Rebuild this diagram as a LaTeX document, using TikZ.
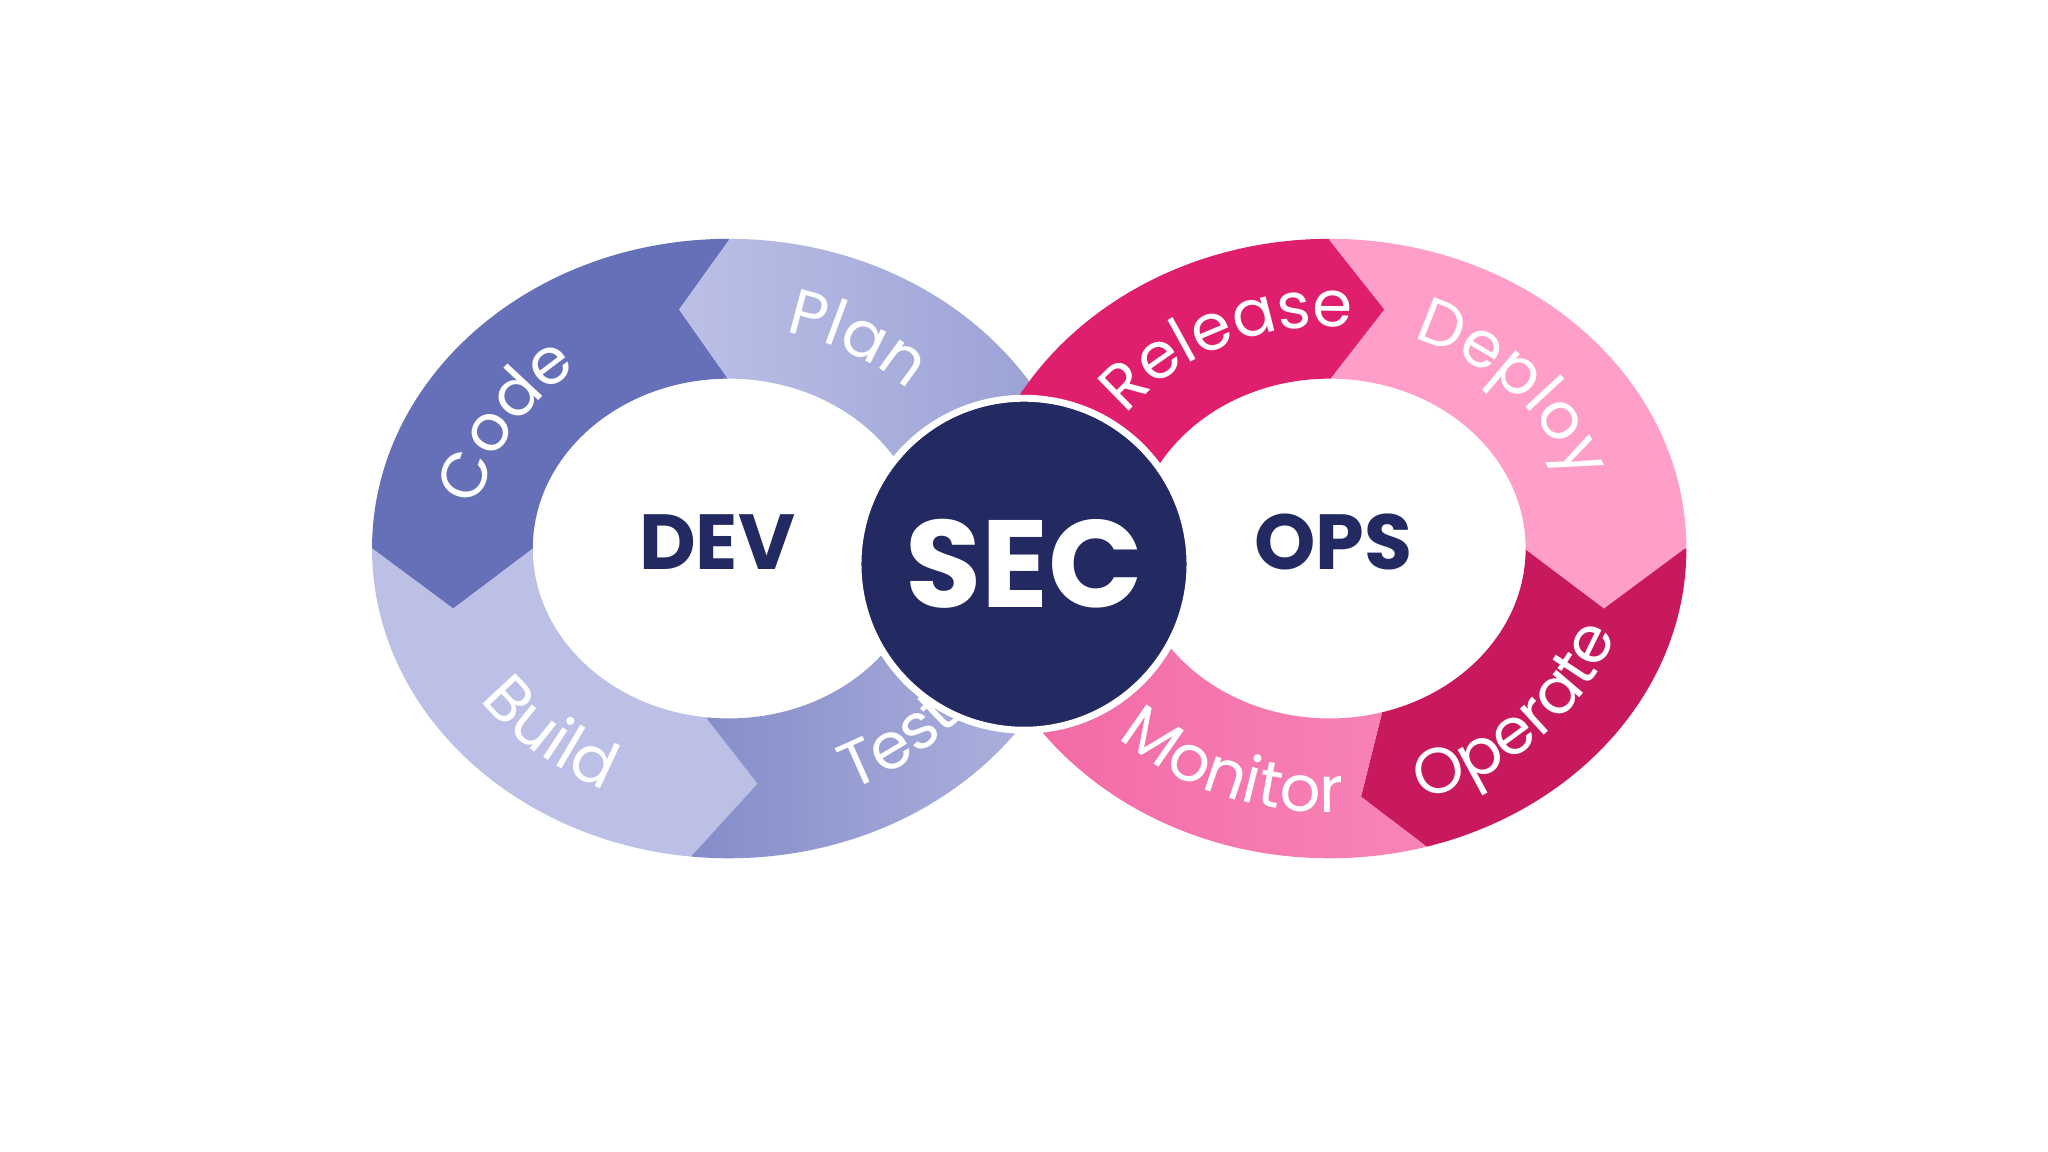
\documentclass[tikz,border=0pt]{standalone}
\usepackage{fontspec}
\setmainfont{Poppins}
\usetikzlibrary{decorations.text}
\definecolor{codeB}{HTML}{6670B8}
\definecolor{lightB}{HTML}{BCC0E6}
\definecolor{midB}{HTML}{8E97CF}
\definecolor{navy}{HTML}{232A62}
\definecolor{relM}{HTML}{E01E6E}
\definecolor{depP}{HTML}{FF9EC8}
\definecolor{opM}{HTML}{C8185E}
\definecolor{monP}{HTML}{EE5A9C}
\tikzset{
  lab/.style={decorate, decoration={text along path, text align=center, text color=white}}
}
\newcommand{\lfont}{\fontsize{14}{14}\selectfont}
\begin{document}
\begin{tikzpicture}[x=0.01cm,y=0.01cm]
\fill[white] (0,0) rectangle (1568,882);
\useasboundingbox (0,0) rectangle (1568,882);
\coordinate (C) at (558,462);
\coordinate (D) at (1018,462);
% left ring
\begin{scope}[even odd rule]
\clip (C) ellipse (2.73cm and 2.37cm) (C) ellipse (1.50cm and 1.30cm);
\fill[codeB] (558,462)--(558,591)--(520,645)--(558,698)--(558,882)--(0,882)--(0,462)--(285,462)--(347,416)--(408,462)--cycle;
\shade[left color=lightB,right color=midB] (558,462)--(558,591)--(520,645)--(558,698)--(558,882)--(900,882)--(900,450)--cycle;
\fill[lightB] (558,462)--(408,462)--(347,416)--(285,462)--(0,462)--(0,0)--(323,0)--(528,225)--(580,282)--(541,332)--cycle;
\shade[left color=codeB,right color=lightB] (558,462)--(541,332)--(580,282)--(528,225)--(323,0)--(900,0)--(900,450)--cycle;
\end{scope}
% right ring
\begin{scope}[even odd rule]
\clip (D) ellipse (2.73cm and 2.37cm) (D) ellipse (1.50cm and 1.30cm);
\fill[relM] (1018,462)--(1018,591)--(1060,645)--(1018,698)--(1018,882)--(600,882)--(600,450)--cycle;
\fill[depP] (1018,462)--(1018,591)--(1060,645)--(1018,698)--(1018,882)--(1568,882)--(1568,462)--(1290,462)--(1228,416)--(1167,462)--cycle;
\fill[opM] (1018,462)--(1167,462)--(1228,416)--(1290,462)--(1568,462)--(1568,0)--(1400,0)--(1092,234)--(1042,272)--(1058,336)--cycle;
\shade[left color=monP,right color=depP] (1018,462)--(1058,336)--(1042,272)--(1092,234)--(1400,0)--(600,0)--(600,450)--cycle;
\end{scope}
% labels
\path[lab, decoration={text={|\lfont|Code}}] (C) ++(176:1.95cm and 1.70cm) arc (176:120:1.95cm and 1.70cm);
\path[lab, decoration={text={|\lfont|Plan}}] (C) ++(84:1.95cm and 1.70cm) arc (84:38:1.95cm and 1.70cm);
\path[lab, decoration={text={|\lfont|Build}}] (C) ++(203:2.32cm and 2.02cm) arc (203:257:2.32cm and 2.02cm);
\path[lab, decoration={text={|\lfont|Test}}] (C) ++(288:2.32cm and 2.02cm) arc (288:326:2.32cm and 2.02cm);
\path[lab, decoration={text={|\lfont|Release}}] (D) ++(146:1.95cm and 1.70cm) arc (146:82:1.95cm and 1.70cm);
\path[lab, decoration={text={|\lfont|Deploy}}] (D) ++(76:1.95cm and 1.70cm) arc (76:12:1.95cm and 1.70cm);
\path[lab, decoration={text={|\lfont|Operate}}] (D) ++(280:2.32cm and 2.02cm) arc (280:350:2.32cm and 2.02cm);
\path[lab, decoration={text={|\lfont|Monitor}}] (D) ++(220:2.32cm and 2.02cm) arc (220:278:2.32cm and 2.02cm);
% centre
\node[circle, minimum size=2.54cm, fill=navy, draw=white, line width=1.5pt] (sec) at (784,450) {};
\node[text=white, font=\fontsize{27}{27}\selectfont\bfseries] (sect) at (sec) {SEC};
\node[text=navy, font=\fontsize{17}{17}\selectfont\bfseries] (dev) at (549,467) {DEV};
\node[text=navy, font=\fontsize{17}{17}\selectfont\bfseries] (ops) at (1021,467) {OPS};
\end{tikzpicture}
\end{document}
